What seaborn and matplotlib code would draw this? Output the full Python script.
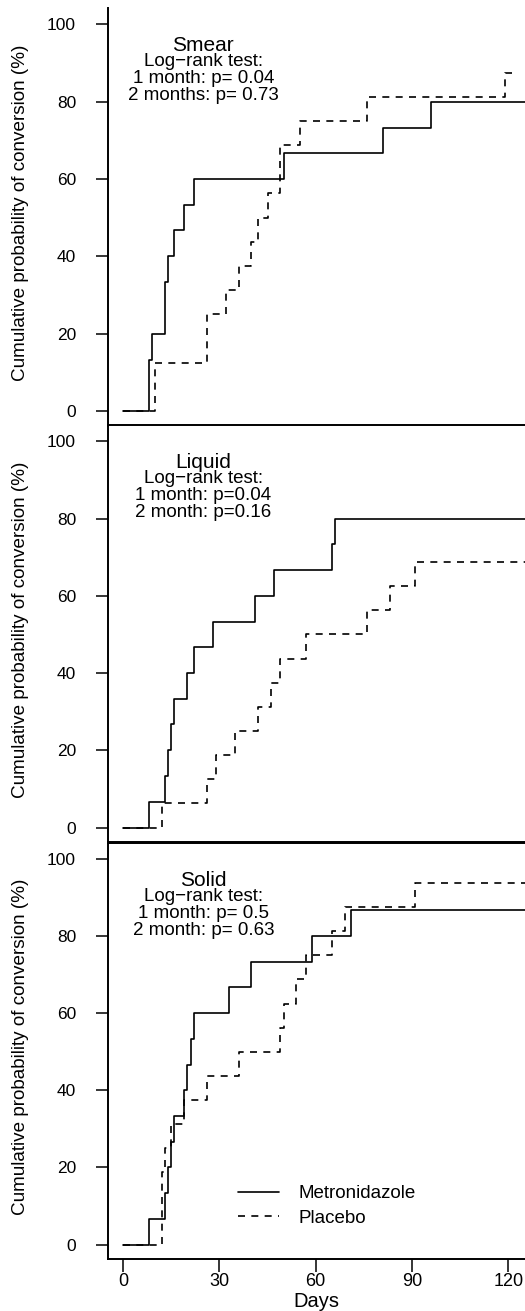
import pandas as pd
import seaborn as sns
import matplotlib.pyplot as plt

# Cumulative probability of conversion (%) by day, per sample type and arm
smear_met_days = [0, 8, 9, 13, 14, 16, 19, 22, 50, 81, 96, 130]
smear_met_pct = [0, 13.3, 20, 33.3, 40, 46.7, 53.3, 60, 66.7, 73.3, 80, 80]
smear_pla_days = [0, 10, 26, 32, 36, 40, 42, 45, 49, 55, 76, 119, 122]
smear_pla_pct = [0, 12.5, 25, 31.25, 37.5, 43.75, 50, 56.25, 68.75, 75, 81.25, 87.5, 87.5]

liquid_met_days = [0, 8, 13, 14, 15, 16, 20, 22, 28, 41, 47, 65, 66, 130]
liquid_met_pct = [0, 6.7, 13.3, 20, 26.7, 33.3, 40, 46.7, 53.3, 60, 66.7, 73.3, 80, 80]
liquid_pla_days = [0, 12, 26, 29, 35, 42, 46, 49, 57, 76, 83, 91, 130]
liquid_pla_pct = [0, 6.25, 12.5, 18.75, 25, 31.25, 37.5, 43.75, 50, 56.25, 62.5, 68.75, 68.75]

solid_met_days = [0, 8, 13, 14, 15, 16, 19, 20, 21, 22, 33, 40, 59, 71, 130]
solid_met_pct = [0, 6.7, 13.3, 20, 26.7, 33.3, 40, 46.7, 53.3, 60, 66.7, 73.3, 80, 86.7, 86.7]
solid_pla_days = [0, 12, 13, 15, 19, 26, 36, 49, 50, 54, 57, 65, 69, 91, 130]
solid_pla_pct = [0, 18.75, 25, 31.25, 37.5, 43.75, 50, 56.25, 62.5, 68.75, 75, 81.25, 87.5, 93.75, 93.75]

groups = ['Metronidazole', 'Placebo']
panel_titles = ['Smear', 'Liquid', 'Solid']
panel_notes = [
    ['Log\u2212rank test:', '1 month: p= 0.04', '2 months: p= 0.73'],
    ['Log\u2212rank test:', '1 month: p=0.04', '2 month: p=0.16'],
    ['Log\u2212rank test:', '1 month: p= 0.5', '2 month: p= 0.63'],
]
panel_data = [
    (smear_met_days, smear_met_pct, smear_pla_days, smear_pla_pct),
    (liquid_met_days, liquid_met_pct, liquid_pla_days, liquid_pla_pct),
    (solid_met_days, solid_met_pct, solid_pla_days, solid_pla_pct),
]
y_ticks = [0, 20, 40, 60, 80, 100]
x_ticks = [0, 30, 60, 90, 120]

sns.set_style("ticks")
plt.rcParams['font.family'] = ['Liberation Sans', 'DejaVu Sans']
plt.rcParams['axes.linewidth'] = 1.4
for key in ['text.color', 'axes.labelcolor', 'axes.edgecolor', 'xtick.color', 'ytick.color']:
    plt.rcParams[key] = 'black'

fig = plt.figure(figsize=(5.25, 13.11), dpi=100)
W, H = 525, 1311
left, right = 108, 525
boxes = [(8, 425.7), (425, 842.3), (842.7, 1259.3)]

for i, (top, bottom) in enumerate(boxes):
    ax = fig.add_axes([left / W, 1 - bottom / H, (right - left) / W, (bottom - top) / H])
    md, mp, pd_, pp = panel_data[i]
    df = pd.DataFrame({
        'Days': md + pd_,
        'Pct': mp + pp,
        'Group': [groups[0]] * len(md) + [groups[1]] * len(pd_),
    })
    sns.lineplot(data=df, x='Days', y='Pct', style='Group', style_order=groups,
                 dashes={groups[0]: '', groups[1]: (4.2, 3.8)}, color='black',
                 estimator=None, drawstyle='steps-post', lw=1.2, legend=False, ax=ax)
    ax.set_xlim(-4.7, 125.2)
    ax.set_ylim(-3.8, 104.2)
    ax.set_yticks(y_ticks)
    ax.tick_params(axis='y', direction='out', length=9, width=1.1, pad=14, labelsize=12.5)
    ax.set_ylabel('Cumulative probability of conversion (%)', fontsize=13.6)
    ax.yaxis.set_label_coords(-0.19, 0.51)
    ax.spines['right'].set_visible(False)
    if i == 0:
        ax.spines['top'].set_visible(False)
    if i < 2:
        ax.set_xticks([])
        ax.set_xlabel('')
    else:
        ax.set_xticks(x_ticks)
        ax.tick_params(axis='x', direction='out', length=9, width=1.1, pad=1, labelsize=13)
        ax.set_xlabel('Days', fontsize=14.5, labelpad=1)
        ax.legend(handles=ax.lines[:2], labels=groups, loc='center left',
                  bbox_to_anchor=(0.312, 0.128), frameon=False, fontsize=13.5,
                  handlelength=2.2, handletextpad=1.0, labelspacing=0.4,
                  borderpad=0, borderaxespad=0)

    ax.text(25, 94.5, panel_titles[i], ha='center', va='center', fontsize=15)
    for j, line in enumerate(panel_notes[i]):
        ax.text(25, 90.3 - 4.4 * j, line, ha='center', va='center', fontsize=13.5)

fig.savefig('out.png', dpi=100)
